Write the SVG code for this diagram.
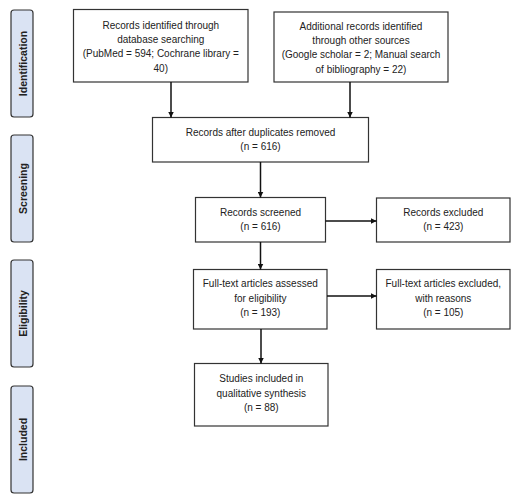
<svg xmlns="http://www.w3.org/2000/svg" width="520" height="502" viewBox="0 0 520 502">
<style>
.bg{fill:#ffffff}
.box{fill:#ffffff;stroke:#333333;stroke-width:1.2}
.phase{fill:#dae3f3;stroke:#333333;stroke-width:1.2}
.t{font-family:"Liberation Sans",Arial,sans-serif;font-size:10px;fill:#222222;text-anchor:middle}
.pt{font-family:"Liberation Sans",Arial,sans-serif;font-size:10.5px;font-weight:bold;fill:#222222;text-anchor:middle}
.c{stroke:#111111;stroke-width:1.5;fill:none;marker-end:url(#ah)}
</style>
<defs>
<marker id="ah" viewBox="0 0 10 10" refX="10" refY="5" markerWidth="6" markerHeight="6" markerUnits="userSpaceOnUse" orient="auto">
<path d="M0,0 L10,5 L0,10 z" fill="#111111"/>
</marker>
</defs>
<rect class="bg" x="0" y="0" width="520" height="502"/>
<g id="phase-identification">
<rect class="phase" x="11" y="10" width="22" height="107" rx="3"/>
<text class="pt" transform="translate(26.5,63.5) rotate(-90)">Identification</text>
</g>
<g id="phase-screening">
<rect class="phase" x="11" y="135" width="22" height="107" rx="3"/>
<text class="pt" transform="translate(26.5,188.5) rotate(-90)">Screening</text>
</g>
<g id="phase-eligibility">
<rect class="phase" x="11" y="260" width="22" height="107" rx="3"/>
<text class="pt" transform="translate(26.5,313.5) rotate(-90)">Eligibility</text>
</g>
<g id="phase-included">
<rect class="phase" x="11" y="386" width="22" height="107" rx="3"/>
<text class="pt" transform="translate(26.5,439.5) rotate(-90)">Included</text>
</g>
<g id="n-db">
<rect class="box" x="73.5" y="9.5" width="174.5" height="72.5"/>
<text class="t" x="160.8" y="28.5">Records identified through</text>
<text class="t" x="160.8" y="42.5">database searching</text>
<text class="t" x="160.8" y="56.8">(PubMed = 594; Cochrane library =</text>
<text class="t" x="160.8" y="71.5">40)</text>
</g>
<g id="n-other">
<rect class="box" x="274" y="12" width="174" height="70"/>
<text class="t" x="361" y="29.5">Additional records identified</text>
<text class="t" x="361" y="44">through other sources</text>
<text class="t" x="361" y="58.3">(Google scholar = 2; Manual search</text>
<text class="t" x="361" y="73">of bibliography = 22)</text>
</g>
<g id="n-dup">
<rect class="box" x="152.5" y="117.5" width="216" height="44.5"/>
<text class="t" x="260.5" y="135.7">Records after duplicates removed</text>
<text class="t" x="260.5" y="150.2">(n = 616)</text>
</g>
<g id="n-screened">
<rect class="box" x="195.5" y="197.5" width="130" height="44.5"/>
<text class="t" x="260.5" y="215.7">Records screened</text>
<text class="t" x="260.5" y="230.2">(n = 616)</text>
</g>
<g id="n-excl">
<rect class="box" x="376.5" y="198" width="133.5" height="44"/>
<text class="t" x="443.3" y="215.7">Records excluded</text>
<text class="t" x="443.3" y="230.2">(n = 423)</text>
</g>
<g id="n-full">
<rect class="box" x="193.5" y="269.5" width="133.5" height="59.5"/>
<text class="t" x="260.3" y="287.2">Full-text articles assessed</text>
<text class="t" x="260.3" y="301.7">for eligibility</text>
<text class="t" x="260.3" y="316.2">(n = 193)</text>
</g>
<g id="n-fullexcl">
<rect class="box" x="376.5" y="269.5" width="133.5" height="59.5"/>
<text class="t" x="443.3" y="287.2">Full-text articles excluded,</text>
<text class="t" x="443.3" y="301.7">with reasons</text>
<text class="t" x="443.3" y="316.2">(n = 105)</text>
</g>
<g id="n-incl">
<rect class="box" x="194.5" y="363.5" width="133.5" height="62.5"/>
<text class="t" x="261.3" y="382.2">Studies included in</text>
<text class="t" x="261.3" y="396.7">qualitative synthesis</text>
<text class="t" x="261.3" y="411.2">(n = 88)</text>
</g>
<g id="connectors">
<line class="c" x1="171" y1="82" x2="171" y2="117.5"/>
<line class="c" x1="350" y1="82" x2="350" y2="117.5"/>
<line class="c" x1="260.5" y1="162" x2="260.5" y2="197.5"/>
<line class="c" x1="325.5" y1="221" x2="376.5" y2="221"/>
<line class="c" x1="260.5" y1="242" x2="260.5" y2="269.5"/>
<line class="c" x1="327" y1="296" x2="376.5" y2="296"/>
<line class="c" x1="261" y1="329" x2="261" y2="363.5"/>
</g>
</svg>
